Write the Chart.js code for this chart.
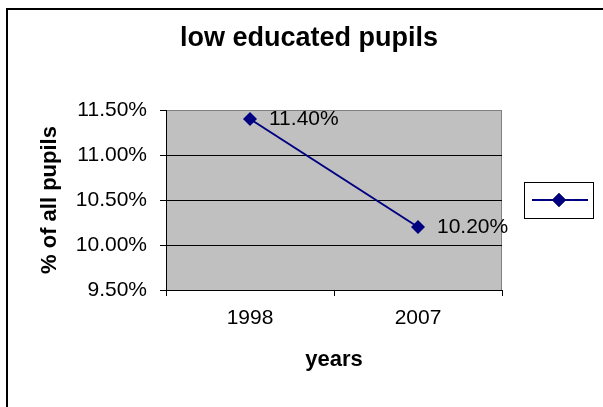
<!DOCTYPE html>
<html>
<head>
<meta charset="utf-8">
<script src="https://cdn.jsdelivr.net/npm/chart.js@4.4.1/dist/chart.umd.min.js"></script>
<style>
  html, body { margin: 0; padding: 0; background: #fff; }
  #wrap { width: 603px; height: 407px; }
</style>
</head>
<body>
<div id="wrap"><canvas id="myChart" width="603" height="407"></canvas></div>
<script>
"use strict";

// low educated pupils, share of all pupils (%)
const years = ['1998', '2007'];
const lowEducated = [11.4, 10.2];
const yTicks = [9.5, 10.0, 10.5, 11.0, 11.5];

const FONT = '"Liberation Sans", Arial, sans-serif';
const NAVY = '#000080';

function pct(v) {
    return v.toFixed(2) + '%';
}

// grey plot area with a thin frame, and the outer chart border
const plotBackground = {
    id: 'plotBackground',
    afterLayout(chart) {
        // centre the title over the whole chart box, legend included
        if (chart.titleBlock) {
            chart.titleBlock.left = 15;
            chart.titleBlock.right = chart.width;
        }
    },
    beforeDraw(chart) {
        const {ctx, chartArea: a} = chart;
        ctx.save();
        ctx.lineWidth = 2;
        ctx.strokeStyle = '#000';
        ctx.strokeRect(7, 9, chart.width + 20, chart.height + 20);
        ctx.fillStyle = '#c0c0c0';
        ctx.fillRect(a.left, a.top, a.right - a.left, a.bottom - a.top);
        ctx.lineWidth = 1;
        ctx.strokeStyle = '#808080';
        ctx.strokeRect(a.left + 0.5, a.top + 0.5, a.right - a.left - 1, a.bottom - a.top);
        ctx.restore();
    }
};

// value labels to the right of each point
const pointLabels = {
    id: 'pointLabels',
    afterDatasetsDraw(chart) {
        const {ctx} = chart;
        ctx.save();
        ctx.font = '21px ' + FONT;
        ctx.fillStyle = '#000';
        ctx.textAlign = 'left';
        ctx.textBaseline = 'middle';
        chart.data.datasets.forEach((ds, i) => {
            chart.getDatasetMeta(i).data.forEach((pt, j) => {
                ctx.fillText(pct(ds.data[j]), pt.x + 19, pt.y);
            });
        });
        ctx.restore();
    }
};

// legend box with the series symbol only
const symbolLegend = {
    id: 'symbolLegend',
    afterDraw(chart) {
        const {ctx, chartArea: a} = chart;
        const ds = chart.data.datasets[0];
        const left = a.right + 22, w = 69, h = 36;
        const top = (a.top + a.bottom) / 2 - h / 2;
        const cy = top + h / 2;
        ctx.save();
        ctx.lineWidth = 1;
        ctx.strokeStyle = '#000';
        ctx.strokeRect(left + 0.5, top + 0.5, w, h);
        ctx.strokeStyle = ds.borderColor;
        ctx.lineWidth = ds.borderWidth;
        ctx.beginPath();
        ctx.moveTo(left + 8, cy);
        ctx.lineTo(left + 64, cy);
        ctx.stroke();
        Chart.helpers.drawPoint(ctx, {
            pointStyle: ds.pointStyle,
            radius: ds.pointRadius,
            borderWidth: 0,
            rotation: 0
        }, left + 35, cy);
        ctx.fillStyle = ds.pointBackgroundColor;
        ctx.fill();
        ctx.restore();
    }
};

const ctx = document.getElementById('myChart').getContext('2d');
const chart = new Chart(ctx, {
    type: 'line',
    data: {
        labels: years,
        datasets: [{
            label: '',
            data: lowEducated,
            borderColor: NAVY,
            borderWidth: 2,
            pointStyle: 'rectRot',
            pointRadius: 7,
            pointBackgroundColor: NAVY,
            pointBorderColor: NAVY,
            pointBorderWidth: 0,
            tension: 0,
            fill: false
        }]
    },
    options: {
        responsive: false,
        animation: false,
        layout: {
            padding: {left: 0, top: 0, right: 101, bottom: 0}
        },
        plugins: {
            legend: {display: false},
            tooltip: {enabled: false},
            title: {
                display: true,
                text: 'low educated pupils',
                color: '#000',
                font: {family: FONT, size: 27, weight: 'bold', lineHeight: 1.2},
                padding: {top: 22, bottom: 55.6}
            }
        },
        scales: {
            x: {
                type: 'category',
                offset: true,
                grid: {
                    offset: true,
                    drawOnChartArea: false,
                    drawTicks: true,
                    tickLength: 6,
                    tickColor: '#000'
                },
                border: {display: true, color: '#000', width: 1},
                ticks: {
                    color: '#000',
                    font: {family: FONT, size: 21},
                    padding: 10,
                    maxRotation: 0
                },
                title: {
                    display: true,
                    text: 'years',
                    color: '#000',
                    font: {family: FONT, size: 22, weight: 'bold', lineHeight: 1.2},
                    padding: {top: 0, bottom: 33.4}
                },
                afterFit(scale) { scale.height = 117; }
            },
            y: {
                min: yTicks[0],
                max: yTicks[yTicks.length - 1],
                afterBuildTicks(scale) {
                    scale.ticks = yTicks.map(v => ({value: v}));
                },
                grid: {
                    color: c => (c.tick && (c.tick.value === yTicks[0] || c.tick.value === yTicks[yTicks.length - 1])) ? 'rgba(0,0,0,0)' : '#000',
                    tickColor: '#000',
                    tickLength: 6,
                    drawTicks: true
                },
                border: {display: true, color: '#000', width: 1},
                ticks: {
                    color: '#000',
                    font: {family: FONT, size: 21},
                    padding: 13,
                    callback: v => pct(v)
                },
                title: {
                    display: true,
                    text: '% of all pupils',
                    color: '#000',
                    font: {family: FONT, size: 22, weight: 'bold', lineHeight: 1.2},
                    padding: {top: 36.5, bottom: 0}
                },
                afterFit(scale) { scale.width = 166; }
            }
        }
    },
    plugins: [plotBackground, pointLabels, symbolLegend]
});
</script>
</body>
</html>
